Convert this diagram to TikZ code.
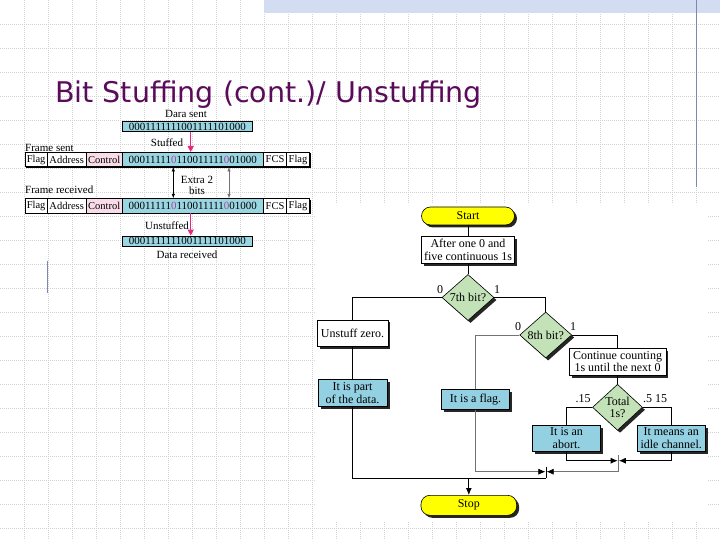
\documentclass[tikz,border=0pt]{standalone}
\usepackage{fontspec}
\setmainfont{Liberation Serif}
\newfontfamily\titlefont{DejaVu Sans}
\usetikzlibrary{shapes.geometric,arrows.meta,shadows}
\definecolor{fcyellow}{HTML}{FFFF00}
\definecolor{fcblue}{HTML}{92D0E2}
\definecolor{fcgreen}{HTML}{C4E2B8}
\definecolor{frblue}{HTML}{9AD6E2}
\definecolor{frpink}{HTML}{FADCE8}
\definecolor{arrpink}{HTML}{E8287C}
\definecolor{stuffbit}{HTML}{A04898}
\definecolor{titlepurple}{HTML}{5A0B5A}
\definecolor{slateline}{HTML}{7C88B0}
\definecolor{bandblue}{HTML}{D3DDF1}
\definecolor{gridgray}{HTML}{D2D2D2}
\begin{document}
\begin{tikzpicture}[x=1pt,y=-1pt,
  gridline/.style={gridgray, line width=0.5pt, dash pattern=on 1pt off 1pt},
  dshadow/.style={drop shadow={shadow xshift=2.5pt,shadow yshift=-2.5pt,fill=black!85,opacity=1}},
  fl/.style={font=\fontsize{12}{12.5}\selectfont, inner sep=0pt, align=center},
  wbox/.style={fl, rectangle, draw=black, line width=0.6pt, fill=white, dshadow},
  bbox/.style={wbox, fill=fcblue},
  term/.style={wbox, fill=fcyellow, rounded corners=9pt},
  dia/.style={fl, diamond, draw=black, line width=0.6pt, fill=fcgreen, aspect=1.13,
              minimum width=52pt, minimum height=46pt, dshadow},
  conn/.style={line width=0.75pt, black},
  gconn/.style={line width=0.6pt, black!55},
  tip/.style={-{Latex[length=7pt,width=6pt,black]}},
  lbl/.style={fl},
  frtxt/.style={font=\fontsize{11}{11.5}\selectfont, inner sep=0pt},
  cell/.style={draw=black, line width=0.5pt, fill=white, minimum height=14.5pt, inner sep=0pt,
               font=\fontsize{10.5}{11}\selectfont},
  dbox/.style={draw=black, line width=0.5pt, fill=frblue, minimum height=10pt, minimum width=130pt,
               inner sep=0pt, font=\fontsize{11}{11}\selectfont},
  parrow/.style={arrpink, line width=1.3pt, -{Triangle[length=6pt,width=6pt]}},
  darrow/.style={line width=0.6pt, {Latex[length=4.5pt,width=3.5pt]}-{Latex[length=4.5pt,width=3.5pt]}}
]
\useasboundingbox (0,0) rectangle (720,540);
\fill[white] (0,0) rectangle (720,540);
% background grid
\foreach \i in {24,48,...,720} \draw[gridline] (\i,0) -- (\i,540);
\foreach \j in {24,48,...,528} \draw[gridline] (0,\j) -- (720,\j);
% header band and rules
\fill[bandblue] (264,0) rectangle (720,13);
\draw[slateline, line width=1pt] (696.7,0) -- (696.7,187);
\draw[slateline, line width=1pt] (47.5,261) -- (47.5,293);
% title
\node[anchor=base west, inner sep=0pt, text=titlepurple,
      font=\titlefont\fontsize{28.5}{30}\selectfont] (title) at (55,103) {Bit Stuffing (cont.)/ Unstuffing};

% ---------- frame diagram ----------
\node[frtxt] (dsentlbl) at (186,114) {Dara sent};
\node[dbox] (dsent) at (187.3,126.7) {0001111111001111101000};
\node[frtxt] (stuffedlbl) at (167,142.7) {Stuffed};
\node[frtxt, anchor=west] (framesent) at (25,147.7) {Frame sent};
\fill[black] (26.2,153.5) rectangle (310.5,168);
\node[cell, minimum width=22.3pt] (f1a) at (36.15,159.5) {Flag};
\node[cell, minimum width=38.7pt] (f1b) at (66.65,159.5) {Address};
\node[cell, minimum width=36.3pt, fill=frpink] (f1c) at (104.15,159.5) {Control};
\node[cell, minimum width=141pt, fill=frblue, font=\fontsize{11}{11}\selectfont] (bits1) at (192.8,159.5)
  {00011111{\color{stuffbit}0}110011111{\color{stuffbit}0}01000};
\node[cell, minimum width=23.4pt] (f1e) at (275,159.5) {FCS};
\node[cell, minimum width=22.6pt] (f1f) at (298,159.5) {Flag};
\node[frtxt] (extra1) at (197,180) {Extra 2};
\node[frtxt] (extra2) at (197,190.5) {bits};
\node[frtxt, anchor=west] (framerec) at (25,190) {Frame received};
\fill[black] (26.2,199.8) rectangle (310.5,214.3);
\node[cell, minimum width=22.3pt] (f2a) at (36.15,205.8) {Flag};
\node[cell, minimum width=38.7pt] (f2b) at (66.65,205.8) {Address};
\node[cell, minimum width=36.3pt, fill=frpink] (f2c) at (104.15,205.8) {Control};
\node[cell, minimum width=141pt, fill=frblue, font=\fontsize{11}{11}\selectfont] (bits2) at (192.8,205.8)
  {00011111{\color{stuffbit}0}110011111{\color{stuffbit}0}01000};
\node[cell, minimum width=23.4pt] (f2e) at (275,205.8) {FCS};
\node[cell, minimum width=22.6pt] (f2f) at (298,205.8) {Flag};
\node[frtxt] (unstuffedlbl) at (167,225.7) {Unstuffed};
\node[dbox] (drec) at (187.3,240.8) {0001111111001111101000};
\node[frtxt] (dreclbl) at (187,255) {Data received};
\draw[parrow] ([xshift=3.4pt]dsent.south) -- ([xshift=3.4pt]dsent.south |- bits1.north);
\draw[parrow] ([xshift=-2.1pt]bits2.south) -- ([xshift=-2.1pt]bits2.south |- drec.north);
\draw[darrow] ([xshift=-19.5pt]bits1.south) -- ([xshift=-19.5pt]bits2.north);
\draw[darrow, black!55] ([xshift=36.2pt]bits1.south) -- ([xshift=36.2pt]bits2.north);

% ---------- flowchart ----------
\fill[white] (316,204) rectangle (707,521);
\node[term, minimum width=93pt, minimum height=18pt] (start) at (468,216) {Start};
\node[wbox, minimum width=93pt, minimum height=26.6pt] (after) at (468,250) {After one 0 and\\five continuous 1s};
\node[dia] (d7) at (468,297.5) {7th bit?};
\node[wbox, minimum width=70.7pt, minimum height=26.7pt] (unstuff) at (352.5,333.3) {Unstuff zero.};
\node[bbox, minimum width=69pt, minimum height=27.4pt] (part) at (352.5,393) {It is part\\of the data.};
\node[dia] (d8) at (545.7,335) {8th bit?};
\node[bbox, minimum width=67.6pt, minimum height=20pt] (flag) at (475.5,399.3) {It is a flag.};
\node[wbox, minimum width=96.7pt, minimum height=26.7pt] (cont) at (617.5,361.7) {Continue counting\\1s until the next 0};
\node[dia, minimum width=50pt] (dT) at (617.5,407.3) {Total\\1s?};
\node[bbox, minimum width=68.4pt, minimum height=26pt] (abort) at (566.5,438) {It is an\\abort.};
\node[bbox, minimum width=67.7pt, minimum height=26pt] (idle) at (671.2,438) {It means an\\idle channel.};
\node[term, minimum width=95.7pt, minimum height=20pt] (stop) at (468.8,505.3) {Stop};

\node[lbl] (l70) at (440,290) {0};
\node[lbl] (l71) at (497,290) {1};
\node[lbl] (l80) at (518,327) {0};
\node[lbl] (l81) at (573,327) {1};
\node[lbl] (lt0) at (583,399) {.15};
\node[lbl] (lt1) at (655,399) {.5 15};

\coordinate (b2t) at (618.3,455);
\coordinate (b2b) at (618.3,471.7);
\coordinate (j2) at (618.3,460.7);
\coordinate (b1t) at (546,466.7);
\coordinate (b1b) at (546,478.3);
\coordinate (j1) at (546,471.7);

\draw[conn] (start) -- (after);
\draw[conn] (after) -- (d7);
\draw[conn] (d7.west) -| (unstuff.north);
\draw[conn] (d7.east) -| (d8.north);
\draw[conn] (unstuff) -- (part);
\draw[gconn] (d8.west) -| (flag.north);
\draw[conn] (d8.east) -| (cont.north);
\draw[conn] (cont) -- (dT);
\draw[conn] (dT.west) -| (abort.north);
\draw[conn] (dT.east) -| (idle.north);
\draw[gconn] (b2t) -- (b2b);
\draw[conn, tip] (abort.south) |- ([xshift=-0.6pt]j2);
\draw[conn, tip] (idle.south) |- ([xshift=0.6pt]j2);
\draw[gconn, tip] (b2b) -- ([xshift=0.6pt]j1);
\draw[gconn, tip] (flag.south) |- ([xshift=-0.6pt]j1);
\draw[conn] (b1t) -- (b1b);
\draw[conn] (part.south) |- (b1b);
\draw[conn, tip] (stop.north |- b1b) -- (stop.north);
\end{tikzpicture}
\end{document}
